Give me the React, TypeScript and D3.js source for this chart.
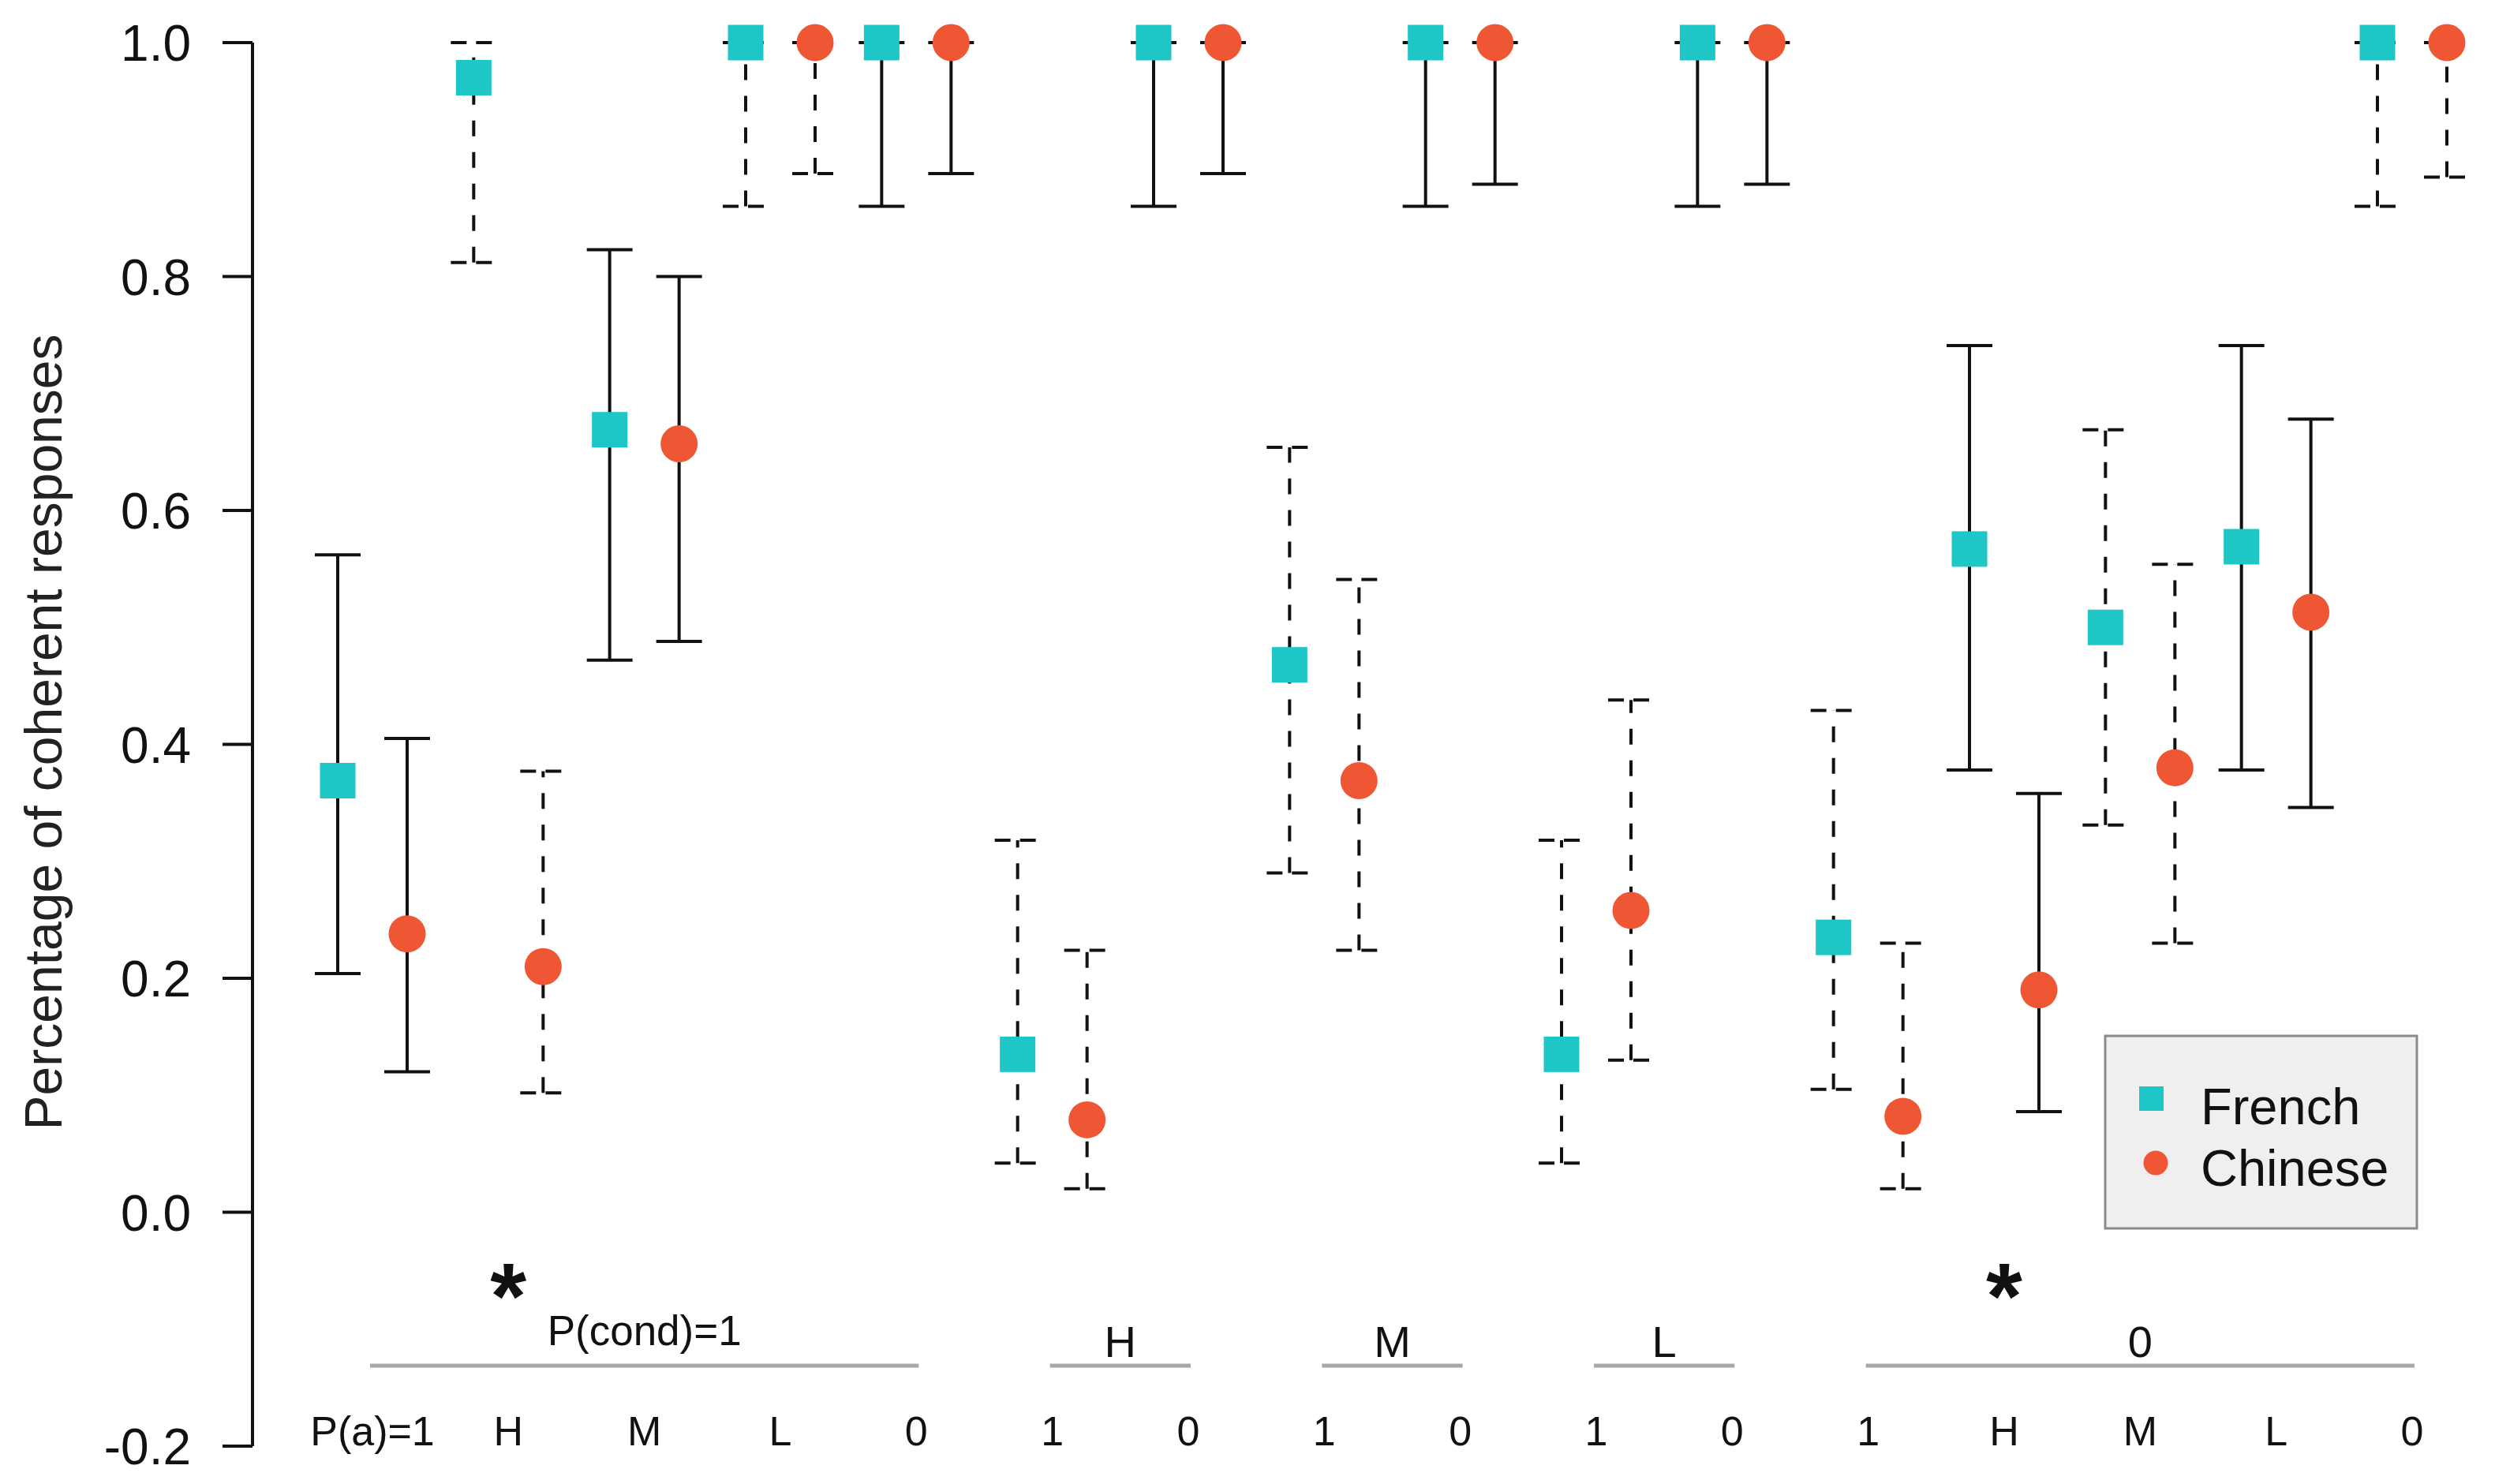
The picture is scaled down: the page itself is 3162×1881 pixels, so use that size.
import React from "react";
import * as d3 from "d3";

const categories = ["P(a)=1", "H", "M", "L", "0", "1", "0", "1", "0", "1", "0", "1", "H", "M", "L", "0"];
const frenchMean = [0.369, 0.97, 0.669, 1.0, 1.0, 0.135, 1.0, 0.468, 1.0, 0.135, 1.0, 0.235, 0.567, 0.5, 0.569, 1.0];
const frenchLow = [0.204, 0.812, 0.472, 0.86, 0.86, 0.042, 0.86, 0.29, 0.86, 0.042, 0.86, 0.105, 0.378, 0.331, 0.378, 0.86];
const frenchHigh = [0.562, 1.0, 0.823, 1.0, 1.0, 0.318, 1.0, 0.654, 1.0, 0.318, 1.0, 0.429, 0.741, 0.669, 0.741, 1.0];
const chineseMean = [0.238, 0.21, 0.657, 1.0, 1.0, 0.079, 1.0, 0.369, 1.0, 0.258, 1.0, 0.082, 0.19, 0.38, 0.513, 1.0];
const chineseLow = [0.12, 0.102, 0.488, 0.888, 0.888, 0.02, 0.888, 0.224, 0.879, 0.13, 0.879, 0.02, 0.086, 0.23, 0.346, 0.885];
const chineseHigh = [0.405, 0.377, 0.8, 1.0, 1.0, 0.224, 1.0, 0.541, 1.0, 0.438, 1.0, 0.23, 0.358, 0.554, 0.678, 1.0];
const barStyle = ["solid", "dashed", "solid", "dashed", "solid", "dashed", "solid", "dashed", "solid", "dashed", "solid", "dashed", "solid", "dashed", "solid", "dashed"];
const groupLabels = ["P(cond)=1", "H", "M", "L", "0"];
const groupStart = [0, 5, 7, 9, 11];
const groupEnd = [4, 6, 8, 10, 15];
const starCategories = [1, 12];
const yTicks = [-0.2, 0, 0.2, 0.4, 0.6, 0.8, 1.0];
const seriesNames = ["French", "Chinese"];

const FRENCH = "#1fc6c6";
const CHINESE = "#ee5634";
const FONT = "'Liberation Sans', Arial, sans-serif";

export default function App() {
  const W = 3162, H = 1881;
  const y = d3.scaleLinear().domain([-0.2, 1.0]).range([1833, 54]);
  const x = d3.scaleLinear().domain([0, categories.length - 1]).range([428, 3013]);
  const off = 88;
  const mid = (i: number) => x(i) + off / 2;
  const axisX = 320;
  const capW = 29;

  const series = [
    { name: seriesNames[0], mean: frenchMean, low: frenchLow, high: frenchHigh, color: FRENCH, dx: 0, shape: "square" },
    { name: seriesNames[1], mean: chineseMean, low: chineseLow, high: chineseHigh, color: CHINESE, dx: off, shape: "circle" },
  ];

  return (
    <svg width={W} height={H} style={{ position: "absolute", left: 0, top: 0, background: "#fff" }} fontFamily={FONT}>
      {/* y axis */}
      <line x1={axisX} x2={axisX} y1={y(-0.2)} y2={y(1.0)} stroke="#111" strokeWidth={4} />
      {yTicks.map((t) => (
        <g key={t}>
          <line x1={axisX - 38} x2={axisX} y1={y(t)} y2={y(t)} stroke="#111" strokeWidth={4} />
          <text x={242} y={y(t)} dy="0.36em" textAnchor="end" fontSize={64} fill="#111">{t.toFixed(1)}</text>
        </g>
      ))}
      <text transform={`translate(78,928) rotate(-90)`} textAnchor="middle" fontSize={66} fill="#222">
        Percentage of coherent responses
      </text>

      {/* error bars */}
      {series.map((s) =>
        s.mean.map((m, i) => {
          const cx = x(i) + s.dx;
          const dashed = barStyle[i] === "dashed";
          return (
            <g key={s.name + i} stroke="#111" strokeWidth={4}>
              <line x1={cx} x2={cx} y1={y(s.low[i])} y2={y(s.high[i])} strokeDasharray={dashed ? "20 20" : undefined} />
              <line x1={cx - capW} x2={cx + capW} y1={y(s.low[i])} y2={y(s.low[i])} strokeDasharray={dashed ? "20 12" : undefined} />
              <line x1={cx - capW} x2={cx + capW} y1={y(s.high[i])} y2={y(s.high[i])} strokeDasharray={dashed ? "20 12" : undefined} />
            </g>
          );
        })
      )}

      {/* markers */}
      {series.map((s) =>
        s.mean.map((m, i) => {
          const cx = x(i) + s.dx;
          return s.shape === "square" ? (
            <rect key={s.name + "m" + i} x={cx - 22.5} y={y(m) - 22.5} width={45} height={45} fill={s.color} />
          ) : (
            <circle key={s.name + "m" + i} cx={cx} cy={y(m)} r={23.5} fill={s.color} />
          );
        })
      )}

      {/* category labels */}
      {categories.map((c, i) => (
        <text key={"c" + i} x={mid(i)} y={1832} textAnchor="middle" fontSize={52} fill="#111">{c}</text>
      ))}

      {/* group labels */}
      {groupLabels.map((g, k) => {
        const x1 = mid(groupStart[k]);
        const x2 = mid(groupEnd[k]);
        const isFirst = k === 0;
        return (
          <g key={"g" + k}>
            <line x1={x1 - 3} x2={x2 + 3} y1={1731} y2={1731} stroke="#a8a8a8" strokeWidth={5} />
            <text x={(x1 + x2) / 2} y={isFirst ? 1705 : 1720} textAnchor="middle" fontSize={isFirst ? 53 : 56} fill="#111">{g}</text>
          </g>
        );
      })}

      {/* significance stars */}
      {starCategories.map((i) => (
        <text key={"s" + i} x={mid(i)} y={1684} textAnchor="middle" fontSize={118} fontWeight="bold" fill="#111">*</text>
      ))}

      {/* legend */}
      <g>
        <rect x={2668} y={1313} width={395} height={244} fill="#efefef" stroke="#8a8a8a" strokeWidth={3} />
        <rect x={2711} y={1377} width={31} height={31} fill={FRENCH} />
        <text x={2789} y={1425} fontSize={65} fill="#111">{seriesNames[0]}</text>
        <circle cx={2732} cy={1474} r={15.5} fill={CHINESE} />
        <text x={2789} y={1503} fontSize={65} fill="#111">{seriesNames[1]}</text>
      </g>
    </svg>
  );
}
